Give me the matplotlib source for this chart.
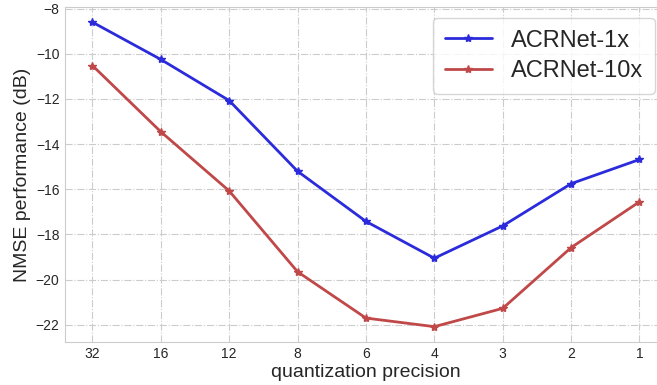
import numpy as np
import matplotlib
matplotlib.use("Agg")
import matplotlib.pyplot as plt
import seaborn as sns

# values
precision = ["32", "16", "12", "8", "6", "4", "3", "2", "1"]
nmse_1x = [-8.6, -10.25, -12.07, -15.2, -17.42, -19.05, -17.62, -15.75, -14.68]
nmse_10x = [-10.52, -13.45, -16.07, -19.65, -21.7, -22.08, -21.27, -18.58, -16.55]

sns.set_style("whitegrid", {"grid.linestyle": "-."})
plt.rcParams["font.family"] = ["Liberation Sans", "DejaVu Sans"]

fig = plt.figure(figsize=(6.57, 3.85), dpi=100)
ax = fig.add_axes([0.099, 0.112, 0.916, 0.870])

x = np.arange(len(precision))
ax.plot(x, nmse_1x, "-*", color="#2b2bdc", lw=2.0, ms=6, label="ACRNet-1x")
ax.plot(x, nmse_10x, "-*", color="#c04848", lw=2.0, ms=6, label="ACRNet-10x")

ax.set_xticks(x)
ax.set_xticklabels(precision)
ax.tick_params(labelsize=10, colors="#262626", length=0, pad=4)
ax.set_xlabel("quantization precision", fontsize=14, labelpad=2)
ax.set_ylabel("NMSE performance (dB)", fontsize=14, labelpad=3)
ax.legend(loc="upper right", fontsize=17, bbox_to_anchor=(1.0, 1.003),
          handlelength=2.0, borderpad=0.5, labelspacing=0.35)

fig.savefig("out.png", dpi=100)
